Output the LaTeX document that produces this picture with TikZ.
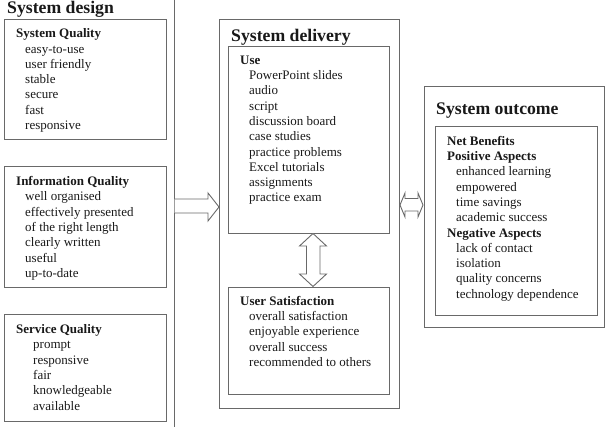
\documentclass[tikz,border=0pt]{standalone}
\usepackage{fontspec}
\setmainfont{Liberation Serif}
\definecolor{linegray}{RGB}{105,105,105}
\definecolor{textcol}{RGB}{25,25,25}
\newcommand\myind{\hspace*{9pt}}
\newcommand\myindb{\hspace*{17pt}}
\begin{document}
\begin{tikzpicture}[x=1pt,y=-1pt,
  box/.style={draw=linegray, line width=0.9pt, inner sep=0pt, outer sep=0pt, anchor=north west},
  txt/.style={anchor=north west, inner sep=0pt, align=left, font=\fontsize{13}{15.3}\selectfont, text=textcol},
  ttl/.style={anchor=base west, inner sep=0pt, font=\fontsize{17.7}{20}\selectfont\bfseries, text=textcol},
  fat/.style={draw=linegray, line width=0.9pt, fill=white, line join=miter},
  plainline/.style={draw=linegray, line width=0.9pt}]
\useasboundingbox (0,0) rectangle (606,427);

% System design column
\node[ttl] (sdtitle) at (7,13.5) {System design};
\coordinate (sdtop) at (174.5,0);
\coordinate (sdbot) at (174.5,427);
\draw[plainline] (sdtop) -- (sdbot);

\node[box, minimum width=162pt, minimum height=120pt] (sq) at (4,19) {};
\node[txt] (sqtext) at (16,26.8) {\strut\textbf{System Quality}\\
\myind easy-to-use\\ \myind user friendly\\ \myind stable\\ \myind secure\\ \myind fast\\ \myind responsive};

\node[box, minimum width=162pt, minimum height=121pt] (iq) at (4,166) {};
\node[txt] (iqtext) at (16,174.6) {\strut\textbf{Information Quality}\\
\myind well organised\\ \myind effectively presented\\ \myind of the right length\\ \myind clearly written\\ \myind useful\\ \myind up-to-date};

\node[box, minimum width=162pt, minimum height=107pt] (svq) at (4,314) {};
\node[txt] (svqtext) at (16,322.6) {\strut\textbf{Service Quality}\\
\myindb prompt\\ \myindb responsive\\ \myindb fair\\ \myindb knowledgeable\\ \myindb available};

% System delivery
\node[box, minimum width=180pt, minimum height=389pt] (deliv) at (219,19) {};
\node[ttl] (delivtitle) at (231,41.7) {System delivery};

\node[box, minimum width=161pt, minimum height=187pt] (use) at (228,46) {};
\node[txt] (usetext) at (240,53.3) {\strut\textbf{Use}\\
\myind PowerPoint slides\\ \myind audio\\ \myind script\\ \myind discussion board\\ \myind case studies\\ \myind practice problems\\ \myind Excel tutorials\\ \myind assignments\\ \myind practice exam};

\node[box, minimum width=161pt, minimum height=107pt] (usat) at (228,287) {};
\node[txt] (usattext) at (240,294.3) {\strut\textbf{User Satisfaction}\\
\myind overall satisfaction\\ \myind enjoyable experience\\ \myind overall success\\ \myind recommended to others};

% System outcome
\node[box, minimum width=180pt, minimum height=241pt] (outc) at (424,86) {};
\node[ttl] (outctitle) at (436,115) {System outcome};

\node[box, minimum width=162pt, minimum height=189pt] (nb) at (435,126) {};
\node[txt] (nbtext) at (447,134.3) {\strut\textbf{Net Benefits}\\
\textbf{Positive Aspects}\\
\myind enhanced learning\\ \myind empowered\\ \myind time savings\\ \myind academic success\\
\textbf{Negative Aspects}\\
\myind lack of contact\\ \myind isolation\\ \myind quality concerns\\ \myind technology dependence};

% Fat arrows
\draw[fat] (174.5,199) -- (208,199) -- (208,193) -- (219,207) -- (208,221) -- (208,213) -- (174.5,213);
\draw[fat] (400,205) -- (405,193) -- (405,198.5) -- (418,198.5) -- (418,193) -- (423,205)
  -- (418,217) -- (418,211) -- (405,211) -- (405,217) -- cycle;
\draw[fat] (313,233.5) -- (326.5,246) -- (320,246) -- (320,274) -- (326.5,274) -- (313,286.5)
  -- (299.5,274) -- (306.5,274) -- (306.5,246) -- (299.5,246) -- cycle;
\end{tikzpicture}
\end{document}
